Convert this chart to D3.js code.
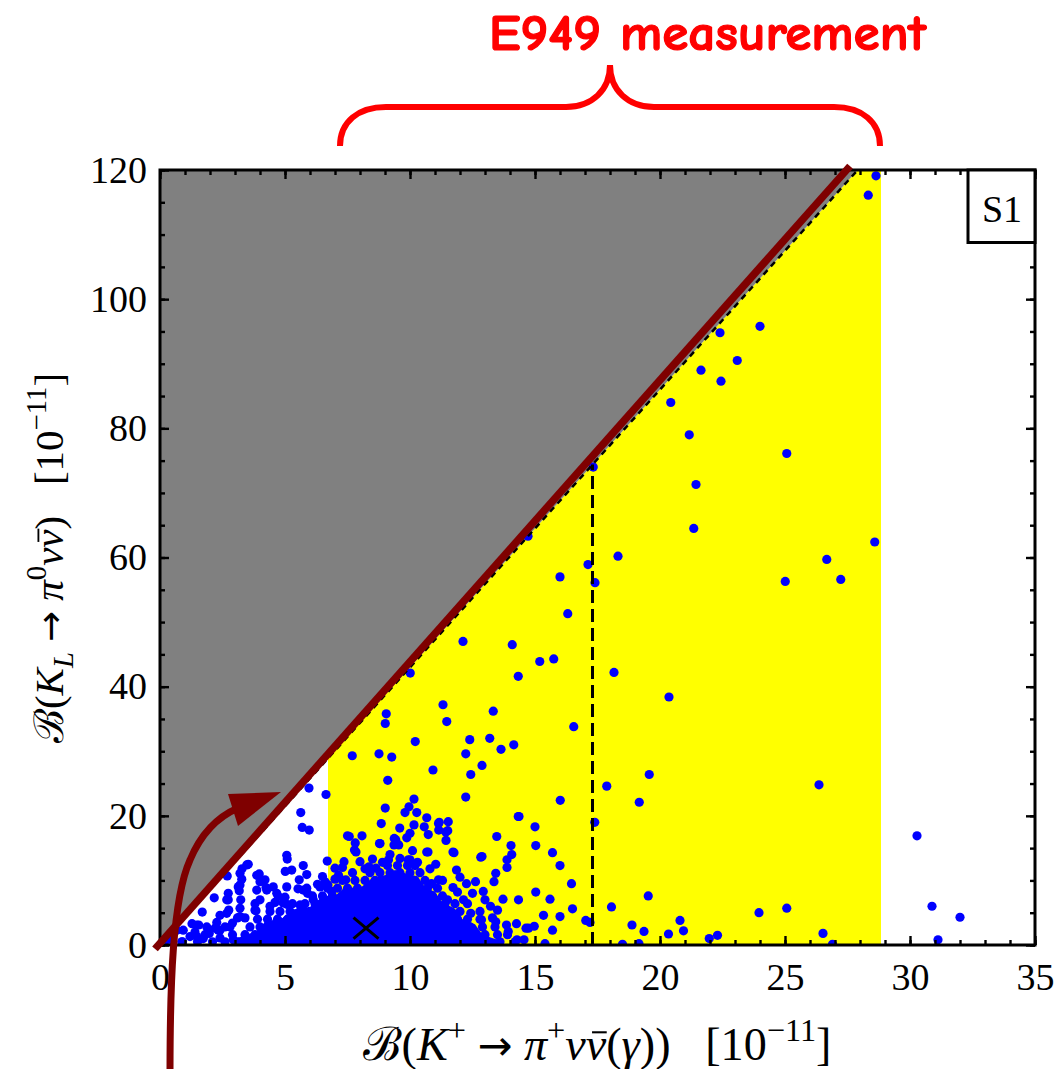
<!DOCTYPE html>
<html><head><meta charset="utf-8">
<script src="https://cdn.jsdelivr.net/npm/d3@7"></script>
<style>body{margin:0;background:#fff}svg{display:block}</style>
</head><body>
<svg id="c" width="1058" height="1069"></svg>
<script>
// ---------------- data ----------------
const xDomain = [0, 35];
const yDomain = [0, 120];
const xTicks = [0, 5, 10, 15, 20, 25, 30, 35];
const yTicks = [0, 20, 40, 60, 80, 100, 120];
const xMinorTicks = d3.range(0, 36, 1);
const yMinorTicks = d3.range(0, 121, 5);
const boundSlope = 4.3;               // Grossman–Nir bound: B(KL) < 4.3 B(K+)
const e949Range = [6.72, 28.84];      // E949 band
const e949Central = 17.3;             // central value (dashed line)
const smPoint = [8.24, 2.6];          // SM prediction (cross)
const braceRange = [7.2, 28.8];
const annotLine = [[-0.2, -0.6], [27.6, 120.6]];

// scattered points
const sparsePoints = [
 [28.64,119.1],[28.33,116.1],[24.0,95.8],[22.4,94.8],[23.09,90.5],[21.64,89.0],[22.44,87.3],[20.43,84.0],
 [21.17,79.0],[25.07,76.1],[21.44,71.3],[21.35,64.5],[18.32,60.2],[28.59,62.4],[26.67,59.7],[27.23,56.6],[25.01,56.3],
 [17.33,74.0],[14.72,63.3],[17.12,58.9],[16.0,57.0],[17.4,56.1],[16.31,51.3],[12.12,47.0],[14.09,46.5],[15.19,43.9],
 [15.75,44.3],[10.01,42.1],[14.33,41.6],[18.16,42.2],[20.36,38.4],[11.32,37.2],[9.05,35.8],[13.33,36.2],[9.01,34.3],
 [11.47,34.6],[16.55,33.8],[10.21,31.5],[12.39,31.8],[13.19,32.0],[13.64,30.3],[14.15,31.0],[7.69,29.3],[8.76,29.6],
 [9.27,29.1],[12.23,29.6],[10.92,27.1],[12.88,27.8],[12.43,26.4],[9.11,25.5],[19.57,26.4],[17.87,24.6],[12.23,22.9],
 [16.01,22.4],[19.17,22.1],[10.16,22.6],[9.01,21.2],[9.96,21.4],[9.8,20.5],[10.27,20.5],[10.67,19.7],[14.33,19.9],
 [8.85,18.8],[10.16,18.6],[11.17,19.0],[11.53,19.1],[15.0,18.3],[17.39,19.0],[9.59,18.1],[26.36,24.8],
 [5.96,24.3],[6.64,23.3],[5.63,20.5],[5.69,18.2],[5.97,17.8],[5.07,13.9],[5.09,13.3],[5.73,12.3],[6.69,13.0],
 [5.01,11.4],[5.27,11.6],[5.87,10.9],[3.53,12.5],[3.2,11.1],[3.28,11.8],[3.27,10.2],[3.97,11.0],[4.2,10.1],
 [2.69,10.7],[3.2,9.3],[3.17,8.4],[3.87,8.5],[4.24,8.9],[5.07,9.0],[5.52,8.7],[5.87,8.8],[6.6,9.8],[5.57,10.1],
 [2.17,7.3],[2.73,7.0],[3.23,7.0],[4.0,7.0],[4.67,8.0],[1.69,5.1],[2.75,5.4],[3.2,5.7],[3.84,5.3],[5.07,6.3],
 [1.28,3.3],[1.55,3.1],[2.27,3.5],[0.93,2.3],[1.2,1.3],[1.97,1.8],[2.4,2.3],[2.8,2.8],[0.47,0.8],[0.87,0.5],
 [0.27,0.8],[0.67,2.3],[1.47,3.1],[1.87,2.8],[2.33,2.3],[1.47,1.3],[2.4,1.1],[1.73,1.0],[2.93,0.8],[3.2,0.5],
 [2.67,7.0],[3.13,9.0],[2.73,8.0],[3.87,10.8],[4.0,9.8],[3.47,12.4],[4.27,8.5],[4.53,9.0],[4.73,7.5],[4.93,6.5],
 [5.73,8.5],[6.4,9.0],[6.13,7.0],[5.6,6.2],[2.67,4.9],[3.2,4.4],[3.8,5.4],[3.1,4.2],[2.4,4.6],[4.4,6.0],
 [7.57,16.8],[8.08,16.9],[7.81,15.8],[8.8,15.7],[9.37,16.5],[9.55,15.5],[9.87,16.6],[10.73,17.1],[11.15,17.8],
 [11.51,17.7],[11.44,16.2],[10.67,14.4],[11.76,14.3],[13.47,16.8],[11.03,12.5],[10.0,13.2],[12.88,13.7],[7.84,14.4],
 [7.78,14.7],[7.5,16.9],[8.78,15.7],[9.14,13.2],[9.93,13.2],[10.72,14.4],[8.0,12.9],[8.36,12.1],[8.64,11.9],
 [7.36,12.9],[7.0,11.9],[7.14,10.8],[7.43,10.1],[6.72,9.3],[6.86,8.3],[6.78,7.0],[10.0,17.3],[10.57,18.3],
 [11.14,18.8],[11.43,17.5],[9.43,16.3],[9.36,15.5],
 [14.36,19.9],[15.03,15.4],[15.7,14.3],[14.04,15.4],[14.07,14.0],[12.83,13.6],[13.88,13.2],[13.88,12.0],[16.0,12.3],
 [16.46,9.5],[15.03,8.2],[15.6,7.1],[14.34,7.0],[16.5,5.6],[15.34,4.6],[16.0,4.4],[17.03,3.8],[14.97,2.9],[15.7,2.3],
 [14.74,2.6],[15.4,0.2],[17.2,3.5],[11.72,14.4],[10.86,9.5],[11.14,10.1],[11.86,11.6],[12.26,9.5],[12.62,9.8],
 [12.93,8.3],[13.43,11.1],[13.36,9.8],[13.0,7.0],[13.22,6.0],[13.72,7.1],[13.5,5.4],[11.72,8.9],[11.5,7.0],[12.14,7.0],
 [12.43,4.9],[12.86,3.9],[13.43,3.6],[13.86,3.1],[14.26,3.3],[14.64,2.6],[13.93,2.1],[14.28,0.8],[14.56,0.8],
 [18.06,5.9],[19.53,7.6],[18.88,3.1],[19.36,2.1],[20.34,1.7],[20.8,3.8],[20.94,2.2],[21.97,1.0],[22.3,1.5],
 [18.5,0.1],[19.16,0.2],[23.96,5.0],[25.07,5.7],[26.52,1.8],[26.9,0.1],
 [30.28,16.9],[30.88,6.0],[32.0,4.3],[31.12,0.8],
 // ragged edge of the dense cloud
 [4.6,6.6],[5.0,7.4],[5.9,8.0],[6.3,9.4],[7.0,10.2],[7.7,11.2],[8.2,11.8],[8.9,12.8],[9.6,13.4],[10.3,12.8],
 [10.8,11.8],[11.3,10.0],[11.9,8.2],[12.3,6.4],[12.8,5.2],[13.3,4.2],[13.9,1.6],[3.4,4.2],[2.9,3.4],[2.2,2.6],
 [1.4,2.0],[3.8,6.4],[8.5,13.3],[9.2,14.0],[10.1,14.6],[7.3,12.0],[6.5,10.6],[12.0,10.5],[12.5,8.0]
];

// dense cloud: rows of points [y, [x...]]
const cloudRows = [
 [0.5, [0.9,1.5,2.1,2.6,3.1,3.5,3.9,4.3,4.7,5.1,5.5,5.9,6.3,6.7,7.1,7.5,7.9,8.3,8.7,9.1,9.5,9.9,10.3,10.7,11.1,11.5,11.9,12.3,12.7,13.1,13.6,14.2]],
 [1.6, [1.8,2.9,3.4,3.8,4.2,4.6,5.0,5.4,5.8,6.2,6.6,7.0,7.4,7.8,8.2,8.6,9.0,9.4,9.8,10.2,10.6,11.0,11.4,11.8,12.2,12.6,13.0,13.5]],
 [2.8, [2.6,3.6,4.0,4.4,4.8,5.2,5.6,6.0,6.4,6.8,7.2,7.6,8.0,8.4,8.8,9.2,9.6,10.0,10.4,10.8,11.2,11.6,12.0,12.4,12.9,13.4]],
 [4.0, [3.9,4.3,4.7,5.1,5.5,5.9,6.3,6.7,7.1,7.5,7.9,8.3,8.7,9.1,9.5,9.9,10.3,10.7,11.1,11.5,11.9,12.3,12.8]],
 [5.2, [4.4,4.8,5.2,5.6,6.0,6.4,6.8,7.2,7.6,8.0,8.4,8.8,9.2,9.6,10.0,10.4,10.8,11.2,11.6,12.0]],
 [6.4, [5.3,5.8,6.2,6.6,7.0,7.4,7.8,8.2,8.6,9.0,9.4,9.8,10.2,10.6,11.0,11.4,11.8]],
 [7.6, [6.1,6.5,6.9,7.3,7.7,8.1,8.5,8.9,9.3,9.7,10.1,10.5,10.9,11.3]],
 [8.8, [6.7,7.1,7.5,7.9,8.3,8.7,9.1,9.5,9.9,10.3,10.7,11.1]],
 [10.0,[7.3,7.8,8.2,8.6,9.0,9.4,9.8,10.2,10.6]],
 [11.2,[8.4,8.8,9.2,9.6,10.0,10.4]],
 [12.3,[9.1,9.5,9.9,10.2]]
];
// saturated core of the cloud (outline)
const cloudCore = [[3.0,-1],[3.2,1.2],[3.9,2.2],[4.2,3.6],[4.9,4.2],[5.3,5.5],[6.0,5.9],[6.4,7.2],[7.0,7.6],
 [7.4,9.0],[8.0,8.8],[8.5,10.4],[9.0,10.8],[9.4,11.6],[9.9,11.0],[10.3,10.6],[10.6,9.0],[11.0,8.2],[11.3,6.6],
 [11.8,5.6],[12.1,4.0],[12.6,3.2],[12.9,1.6],[13.5,0.8],[13.8,-1]];

// ---------------- drawing ----------------
const svg = d3.select('#c');
const x = d3.scaleLinear(xDomain, [160, 1035]);
const y = d3.scaleLinear(yDomain, [945, 170]);
const serif = "'Liberation Serif','DejaVu Serif',serif";

svg.append('defs').append('clipPath').attr('id','plot')
  .append('rect').attr('x', x(0)).attr('y', y(120)).attr('width', x(35)-x(0)).attr('height', y(0)-y(120));

const plot = svg.append('g').attr('clip-path','url(#plot)');
const yTopX = yDomain[1] / boundSlope;

plot.append('path').attr('fill','#ffff00')
  .attr('d', d3.line()([
    [x(e949Range[0]), y(0)], [x(e949Range[0]), y(boundSlope*e949Range[0])],
    [x(yTopX), y(120)], [x(e949Range[1]), y(120)], [x(e949Range[1]), y(0)]]) + 'Z');

plot.append('path').attr('fill','#808080')
  .attr('d', d3.line()([[x(0), y(0)], [x(yTopX), y(120)], [x(0), y(120)]]) + 'Z');

plot.append('path').attr('fill','#0000ff')
  .attr('d', d3.line().x(d=>x(d[0])).y(d=>y(d[1]))(cloudCore) + 'Z');

const cloudPoints = cloudRows.flatMap(([yy, xs]) => xs.map(xx => [xx, yy]));
plot.append('g').attr('fill','#0000ff')
  .selectAll('circle').data(cloudPoints.concat(sparsePoints)).join('circle')
  .attr('cx', d=>x(d[0])).attr('cy', d=>y(d[1])).attr('r', 4.6);

plot.append('line').attr('x1', x(0)).attr('y1', y(0)).attr('x2', x(yTopX)).attr('y2', y(120))
  .attr('stroke','#000').attr('stroke-width',2.5).attr('stroke-dasharray','6,5');
plot.append('line').attr('x1', x(e949Central)).attr('y1', y(0))
  .attr('x2', x(e949Central)).attr('y2', y(boundSlope*e949Central))
  .attr('stroke','#000').attr('stroke-width',3).attr('stroke-dasharray','13,6');

// SM cross
const cx0 = x(smPoint[0]), cy0 = y(smPoint[1]), cw = 12.5, ch = 10.5;
svg.append('path').attr('stroke','#000').attr('stroke-width',3).attr('fill','none')
  .attr('d', `M${cx0-cw},${cy0-ch}L${cx0+cw},${cy0+ch}M${cx0-cw},${cy0+ch}L${cx0+cw},${cy0-ch}`);

// ticks (inward, all four sides)
function tickAxis(axisFn, scale, vals, size, transform, labels) {
  const a = axisFn(scale).tickValues(vals).tickSize(-size);
  if (!labels) a.tickFormat('');
  const g = svg.append('g').attr('transform', transform).call(a);
  g.select('.domain').remove();
  g.selectAll('line').attr('stroke','#000').attr('stroke-width',2.4);
  return g;
}
tickAxis(d3.axisBottom, x, xMinorTicks, 5, `translate(0,${y(0)})`);
tickAxis(d3.axisTop, x, xMinorTicks, 5, `translate(0,${y(120)})`);
tickAxis(d3.axisLeft, y, yMinorTicks, 5, `translate(${x(0)},0)`);
tickAxis(d3.axisRight, y, yMinorTicks, 5, `translate(${x(35)},0)`);
tickAxis(d3.axisTop, x, xTicks, 9, `translate(0,${y(120)})`);
tickAxis(d3.axisRight, y, yTicks, 9, `translate(${x(35)},0)`);
const gx = tickAxis(d3.axisBottom, x, xTicks, 9, `translate(0,${y(0)})`, true);
gx.selectAll('text').attr('font-family', serif).attr('font-size', 38).attr('fill','#000').attr('y', 18);
const gy = tickAxis(d3.axisLeft, y, yTicks, 9, `translate(${x(0)},0)`, true);
gy.selectAll('text').attr('font-family', serif).attr('font-size', 38).attr('fill','#000').attr('x', -13);

// frame
svg.append('rect').attr('x', x(0)).attr('y', y(120)).attr('width', x(35)-x(0)).attr('height', y(0)-y(120))
  .attr('fill','none').attr('stroke','#000').attr('stroke-width',3);

// annotation maroon line
svg.append('line').attr('x1', x(annotLine[0][0])).attr('y1', y(annotLine[0][1]))
  .attr('x2', x(annotLine[1][0])).attr('y2', y(annotLine[1][1]))
  .attr('stroke','#7f0000').attr('stroke-width',7.5);

// curved arrow
svg.append('path').attr('fill','none').attr('stroke','#7f0000').attr('stroke-width',7)
  .attr('d','M170,1075 C170,990 172,900 190,860 C200,836 215,818 238,808');
svg.append('path').attr('fill','#7f0000').attr('d','M228,794 L281,792 L238,826 Z');

// S1 box
svg.append('rect').attr('x', 968).attr('y', y(120)).attr('width', x(35)-968).attr('height', 72.5)
  .attr('fill','#fff').attr('stroke','#000').attr('stroke-width',3);
svg.append('text').attr('x', 1002).attr('y', 222).attr('text-anchor','middle')
  .attr('font-family', serif).attr('font-size', 38).text('S1');

// brace + E949 label
const b0 = x(braceRange[0]), b1 = x(braceRange[1]), bt = (b0 + b1) / 2;
svg.append('path').attr('fill','none').attr('stroke','#ff0000').attr('stroke-width',6)
  .attr('d', `M${b0},146 C${b0},122 ${b0+18},107 ${b0+46},107 L${bt-44},107 C${bt-18},107 ${bt},90 ${bt},65 C${bt},90 ${bt+18},107 ${bt+44},107 L${b1-46},107 C${b1-18},107 ${b1},122 ${b1},146`);
svg.append('text').attr('x', 489).attr('y', 50)
  .attr('font-family', "'Comic Sans MS','Comic Neue','DejaVu Sans',sans-serif")
  .attr('font-weight','bold').attr('font-size', 50).attr('fill','#ff0000')
  .attr('stroke','#ff0000').attr('stroke-width',1.2).attr('stroke-linejoin','round')
  .attr('textLength', 437).attr('lengthAdjust','spacingAndGlyphs')
  .text('E949 measurement');

// axis labels with rich text
const xLabelSegs = [{t:'ℬ'},{t:'('},{t:'K',i:1},{t:'+',sup:1},{t:' '},{t:'→',arrow:1},{t:' '},{t:'π',i:1},{t:'+',sup:1},
  {t:'ν',i:1},{t:'ν',i:1,bar:1},{t:'('},{t:'γ',i:1},{t:'))'},{t:'[',gap:1},{t:'10'},{t:'−11',sup:1},{t:']'}];
const yLabelSegs = [{t:'ℬ'},{t:'('},{t:'K',i:1},{t:'L',i:1,sub:1},{t:' '},{t:'→',arrow:1},{t:' '},{t:'π',i:1},{t:'0',sup:1},
  {t:'ν',i:1},{t:'ν',i:1,bar:1},{t:')'},{t:'[',gap:1},{t:'10'},{t:'−11',sup:1},{t:']'}];

function richLabel(segs, size, transform) {
  const g = svg.append('g').attr('transform', transform);
  const t = g.append('text').attr('font-family', serif).attr('font-size', size).attr('fill','#000')
    .attr('text-anchor','middle').attr('x', 0).attr('y', 0).style('white-space','pre');
  let shift = 0;
  const bars = [];
  segs.forEach(s => {
    const target = s.sup ? -0.42*size : s.sub ? 0.25*size : 0;
    const ts = t.append('tspan').text(s.t).attr('dy', target - shift);
    shift = target;
    if (s.sup || s.sub) ts.attr('font-size', size*0.7);
    if (s.i) ts.attr('font-style','italic');
    if (s.gap) ts.attr('dx', size*0.75);
    if (s.arrow) ts.attr('font-family', "'DejaVu Sans',sans-serif").attr('font-size', size*0.9);
    if (s.bar) bars.push(ts);
  });
  bars.forEach(ts => {
    const bb = ts.node().getBBox();
    g.append('line').attr('x1', bb.x + bb.width*0.3).attr('x2', bb.x + bb.width*1.0)
      .attr('y1', -0.6*size).attr('y2', -0.6*size)
      .attr('stroke','#000').attr('stroke-width', size*0.045);
  });
  return g;
}
function fitLabel(segs, width, transform) {
  let g = richLabel(segs, 34, transform);
  const w = g.select('text').node().getBBox().width;
  g.remove();
  return richLabel(segs, 34 * width / w, transform);
}
fitLabel(xLabelSegs, 468, 'translate(597,1060)');
fitLabel(yLabelSegs, 370, 'translate(63,558) rotate(-90)');
</script>
</body></html>
